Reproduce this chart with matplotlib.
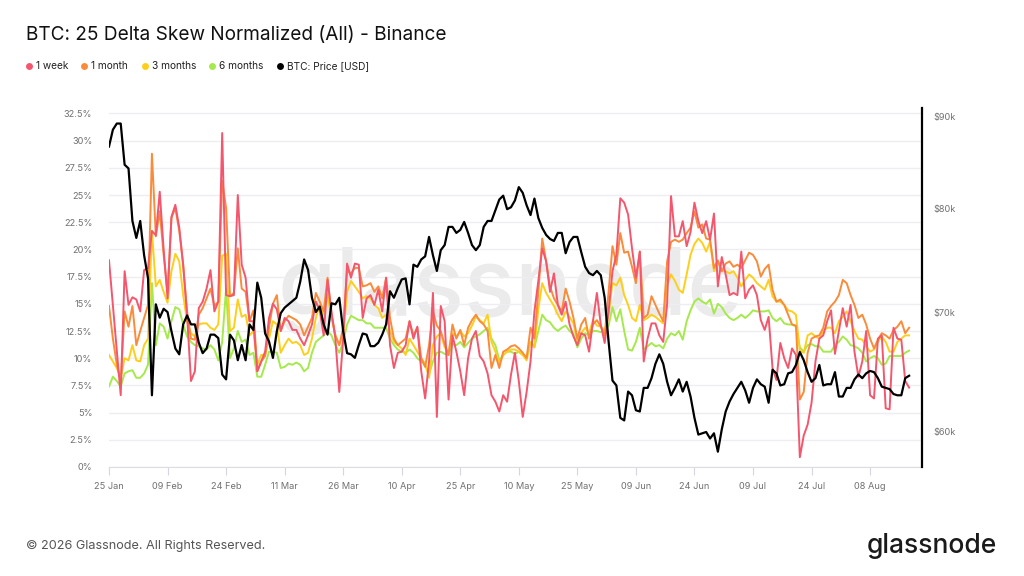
import numpy as np
import pandas as pd
import matplotlib
matplotlib.use("Agg")
import matplotlib.pyplot as plt
import matplotlib.dates as mdates
from matplotlib.lines import Line2D
from matplotlib.ticker import FixedLocator, NullLocator

plt.rcParams['font.family'] = ['Inter', 'DejaVu Sans']

# ---- data (daily) ----
start = "2026-01-25"

skew_1w = [19.0, 14.8, 10.7, 6.6, 18.0, 14.9, 15.6, 15.4, 14.3, 18.1, 18.3, 21.7, 21.3, 25.3, 20.0, 15.5,
           23.0, 24.1, 22.0, 18.6, 14.0, 7.9, 8.8, 14.6, 15.2, 16.4, 18.1, 14.3, 15.2, 30.7, 15.8, 15.7,
           15.8, 25.0, 18.6, 17.4, 13.4, 13.4, 8.8, 9.7, 10.6, 13.7,
           15.0, 14.5, 12.5, 13.7, 13.4, 12.6, 12.6, 11.8, 11.2, 12.1, 13.1, 15.2, 14.4, 12.1, 17.2, 14.3,
           11.8, 6.9, 11.8, 18.7, 17.4, 18.7, 18.6, 13.7, 15.5, 15.8, 14.9, 16.3, 14.3, 17.4, 11.2, 9.1,
           10.5, 10.6, 11.2, 13.4, 11.8, 12.9, 8.8, 6.3, 9.7, 16.0,
           4.6, 14.8, 13.4, 6.2, 12.1, 10.6, 8.8, 6.6, 10.0, 11.8, 12.5, 10.2, 9.7, 8.6, 6.6, 6.0, 5.1,
           6.6, 6.0, 8.5, 10.5, 7.9, 4.6, 6.9, 9.7, 14.3, 17.1, 20.1, 18.9, 16.1, 17.8, 14.9, 14.0, 15.2,
           13.1, 12.0, 11.2, 12.3, 12.1, 10.6, 13.4,
           16.0, 13.1, 11.4, 14.3, 18.0, 19.5, 24.7, 24.3, 23.2, 20.1, 17.4, 19.8, 9.7, 11.8, 13.2, 13.2,
           12.1, 11.5, 15.0, 24.9, 21.2, 21.2, 22.6, 20.3, 21.6, 24.3, 22.6, 21.5, 22.6, 20.9, 23.3, 16.6,
           19.3, 17.7, 15.8, 16.0, 15.8, 19.8, 15.5, 16.3, 16.7, 15.8,
           13.5, 12.6, 13.8, 9.1, 8.0, 11.4, 10.0, 9.1, 10.9, 10.3, 0.9, 2.9, 3.9, 5.9, 9.7, 11.8, 12.1,
           13.4, 14.4, 10.4, 12.5, 14.6, 12.9, 14.9, 10.6, 8.3, 9.7, 12.5, 6.6, 6.3, 11.8, 12.1, 5.4, 5.3,
           12.8, 11.8, 11.7, 7.9, 7.3]

skew_1m = [14.8, 11.8, 9.4, 7.9, 14.3, 12.9, 14.8, 11.2, 12.5, 13.7, 14.9, 28.8, 21.2, 23.5, 19.5, 16.1,
           22.9, 23.8, 21.7, 18.6, 14.3, 11.8, 11.7, 14.0, 14.6, 15.5, 16.4, 14.8, 15.2, 26.3, 23.8, 15.7,
           16.0, 20.1, 16.4, 16.1, 13.4, 14.4, 8.8, 9.7, 10.2, 12.8,
           15.0, 15.8, 12.5, 13.4, 13.9, 13.7, 13.5, 13.1, 12.1, 12.9, 13.7, 16.0, 15.2, 14.3, 17.4, 14.0,
           12.1, 11.2, 12.8, 18.0, 17.8, 18.3, 18.3, 16.6, 16.7, 16.9, 16.1, 16.6, 15.5, 17.4, 13.7, 11.8,
           11.2, 11.5, 11.8, 13.4, 12.1, 12.8, 10.0, 9.2, 11.2, 14.3,
           13.0, 12.5, 11.3, 10.3, 13.1, 11.8, 12.6, 11.2, 12.8, 13.5, 14.0, 13.4, 13.1, 12.5, 9.1, 10.3,
           9.1, 10.6, 10.8, 11.1, 11.2, 10.9, 10.5, 10.0, 12.8, 11.8, 16.1, 21.0, 18.9, 16.6, 15.5, 14.9,
           14.3, 16.4, 15.2, 13.7, 11.8, 13.1, 13.7, 11.8, 13.1,
           13.5, 12.9, 12.1, 16.1, 20.3, 18.6, 21.5, 19.7, 19.8, 18.4, 16.9, 19.8, 13.7, 14.0, 15.7, 14.9,
           14.1, 13.4, 18.9, 20.7, 20.9, 20.7, 20.9, 21.5, 22.0, 23.5, 22.0, 22.3, 21.0, 20.9, 18.3, 19.0,
           18.0, 18.7, 18.9, 18.4, 18.6, 18.3, 19.0, 19.7, 19.5, 18.9,
           17.5, 18.2, 18.6, 16.3, 15.2, 15.4, 14.9, 14.0, 13.1, 13.0, 6.2, 6.9, 10.5, 11.8, 12.0, 12.1,
           12.8, 14.3, 14.8, 15.2, 15.8, 17.2, 16.9, 15.8, 14.9, 13.7, 14.0, 13.1, 11.8, 10.9, 11.7, 12.3,
           12.1, 11.8, 12.6, 12.9, 13.4, 12.3, 12.8]

skew_3m = [10.3, 9.7, 9.1, 8.2, 10.0, 9.8, 11.2, 9.8, 9.7, 11.2, 11.8, 21.7, 16.6, 17.2, 16.1, 15.1,
           18.0, 19.6, 18.9, 15.8, 13.4, 12.3, 12.0, 13.1, 13.2, 13.2, 12.8, 12.6, 13.1, 19.4, 19.6, 12.5,
           12.8, 15.4, 13.8, 14.0, 12.1, 12.5, 9.4, 10.3, 10.3, 11.8,
           13.4, 13.1, 10.5, 11.2, 11.8, 11.4, 11.5, 11.2, 10.3, 10.5, 11.8, 13.7, 14.9, 14.0, 15.8, 13.7,
           12.1, 11.2, 12.1, 16.1, 17.1, 16.6, 16.1, 15.5, 15.7, 15.5, 14.9, 14.6, 13.7, 14.0, 12.5, 11.5,
           11.2, 10.9, 10.3, 11.8, 11.2, 10.6, 10.0, 9.5, 8.2, 11.2,
           12.0, 12.3, 11.0, 10.5, 12.3, 12.0, 12.5, 12.0, 12.3, 13.0, 13.8, 13.5, 13.2, 14.0, 11.5, 10.6,
           9.5, 10.3, 10.6, 10.8, 10.8, 10.6, 10.3, 9.8, 11.5, 11.0, 14.5, 16.9, 16.0, 15.4, 14.8, 14.0,
           13.4, 14.3, 13.8, 13.2, 11.5, 12.3, 12.8, 12.3, 13.5,
           13.0, 12.9, 12.5, 14.0, 16.9, 16.7, 17.4, 15.8, 14.9, 13.7, 13.4, 14.9, 13.5, 13.7, 14.0, 13.8,
           13.5, 13.2, 16.7, 17.7, 17.1, 16.3, 16.0, 17.7, 19.5, 20.5, 21.0, 20.6, 19.8, 20.7, 18.0, 18.9,
           18.0, 18.0, 17.8, 18.0, 17.4, 16.6, 17.2, 17.7, 17.4, 16.9,
           16.6, 16.3, 17.2, 15.7, 15.2, 15.2, 14.9, 14.4, 14.3, 14.0, 10.7, 10.5, 12.1, 12.3, 12.0, 11.8,
           12.5, 12.8, 12.8, 12.3, 13.4, 13.8, 14.3, 13.4, 12.5, 11.8, 11.7, 11.1, 10.6, 10.8, 11.5, 12.0,
           11.5, 10.6, 10.6, 11.5, 11.8, 12.1, 12.1]

skew_6m = [7.4, 8.3, 7.9, 7.4, 8.6, 8.8, 8.9, 8.2, 8.2, 8.6, 9.4, 16.9, 11.2, 13.2, 12.9, 11.8,
           13.4, 14.7, 14.5, 13.1, 12.0, 11.5, 11.2, 11.1, 10.9, 10.8, 11.2, 10.8, 9.8, 11.5, 16.4, 10.0,
           10.9, 12.5, 11.5, 11.7, 10.3, 10.5, 8.3, 8.3, 9.4, 10.6,
           10.6, 10.5, 9.1, 9.2, 9.5, 9.4, 9.6, 9.4, 8.8, 9.1, 10.5, 11.5, 11.8, 12.1, 12.5, 12.1,
           11.2, 10.5, 11.5, 13.1, 13.9, 13.7, 13.5, 13.5, 13.2, 13.2, 12.8, 12.8, 12.8, 12.8, 11.8, 11.2,
           10.8, 10.6, 10.5, 10.8, 10.5, 10.0, 9.7, 9.4, 8.5, 9.7,
           10.5, 10.6, 10.4, 10.3, 11.3, 11.2, 11.5, 11.0, 11.4, 11.8, 12.0, 12.2, 12.5, 12.8, 11.8, 11.2,
           9.8, 10.3, 10.6, 10.6, 10.4, 10.6, 10.3, 10.1, 11.5, 11.0, 12.5, 14.0, 13.5, 13.3, 12.8, 12.5,
           12.8, 13.0, 12.5, 12.2, 11.0, 11.8, 12.3, 12.1, 12.5,
           12.5, 12.4, 12.5, 13.0, 14.7, 13.4, 14.5, 12.5, 10.8, 10.7, 11.5, 12.8, 10.8, 11.1, 11.4, 11.1,
           11.2, 10.9, 11.8, 12.3, 12.1, 12.5, 11.7, 13.4, 14.4, 15.2, 15.5, 15.2, 15.0, 15.4, 14.1, 15.0,
           14.7, 14.1, 13.7, 13.5, 13.7, 14.0, 13.7, 14.0, 14.4, 14.3,
           14.3, 14.3, 14.4, 13.7, 13.4, 13.7, 13.2, 13.1, 13.1, 12.9, 11.0, 10.6, 11.2, 11.3, 11.1, 11.1,
           10.6, 10.6, 10.6, 11.2, 11.5, 12.0, 11.7, 11.2, 11.1, 10.9, 10.5, 9.7, 10.0, 10.2, 10.0, 9.4,
           9.5, 10.2, 10.2, 10.2, 10.2, 10.5, 10.7]

# BTC price in thousands of USD
btc_price_k = [86.6, 88.5, 89.2, 89.2, 84.6, 84.2, 78.7, 77.0, 78.7, 75.3, 73.1, 62.9, 70.7, 69.5, 70.3, 70.0,
               68.3, 66.8, 66.3, 68.9, 69.7, 68.9, 68.9, 67.3, 66.4, 66.8, 68.0, 68.0, 67.7, 64.6, 64.2, 68.0,
               67.5, 65.8, 67.1, 65.8, 68.9, 68.4, 72.7, 71.3, 68.1, 67.4,
               66.0, 68.3, 69.9, 70.4, 70.7, 71.0, 71.3, 72.8, 74.9, 73.9, 71.3, 70.0, 70.5, 68.9, 68.0, 70.8,
               70.7, 71.3, 68.3, 66.4, 66.3, 66.0, 67.1, 68.1, 68.0, 67.0, 67.0, 67.3, 68.0, 68.9, 71.9, 71.3,
               72.2, 73.0, 73.1, 70.7, 74.4, 74.2, 74.9, 75.2, 77.1, 75.3,
               73.8, 75.8, 76.3, 78.1, 78.1, 77.5, 77.8, 78.6, 77.5, 76.3, 75.8, 76.3, 78.1, 78.7, 78.7, 79.8,
               80.9, 81.3, 79.9, 80.1, 80.8, 82.2, 81.6, 80.3, 79.3, 81.0, 79.0, 78.0, 77.3, 76.9, 76.7, 77.5,
               77.5, 75.5, 76.6, 77.1, 77.1, 75.6, 74.2, 73.6, 73.4,
               73.8, 73.4, 71.3, 67.4, 64.1, 63.7, 61.1, 60.9, 63.2, 62.9, 61.7, 61.6, 63.5, 63.5, 64.3, 65.5,
               66.3, 65.5, 64.0, 62.9, 63.5, 64.2, 63.2, 64.0, 62.8, 61.1, 59.8, 59.9, 60.0, 59.5, 59.9, 58.5,
               60.2, 61.6, 62.4, 63.0, 63.5, 64.0, 63.3, 62.3, 63.5, 64.2,
               63.8, 63.6, 62.3, 65.0, 64.7, 63.7, 63.8, 64.7, 64.8, 65.4, 66.5, 65.8, 64.8, 64.0, 64.3, 65.4,
               63.7, 63.8, 63.8, 64.8, 62.8, 62.8, 63.5, 63.5, 64.2, 64.6, 64.3, 64.7, 64.9, 64.8, 64.3, 63.6,
               63.5, 63.4, 63.0, 62.9, 62.9, 64.3, 64.5]

series_names = ["1 week", "1 month", "3 months", "6 months", "BTC: Price [USD]"]
series_colors = ["#f4566d", "#f98b3a", "#fdcf1c", "#a5e94c", "#000000"]
left_ticks = [0, 2.5, 5, 7.5, 10, 12.5, 15, 17.5, 20, 22.5, 25, 27.5, 30, 32.5]
right_ticks = [60, 70, 80, 90]

dates = pd.date_range(start, periods=len(btc_price_k), freq="D")
tick_dates = pd.date_range(start, periods=14, freq="15D")

# ---- figure ----
W, H = 1024, 576
fig = plt.figure(figsize=(W / 100, H / 100), dpi=100)
ax = fig.add_axes([109 / W, 1 - 467 / H, (922 - 109) / W, (467 - 108) / H])

# watermark
ax.text(510 / W, 1 - 315 / H, "glassnode", transform=fig.transFigure, fontsize=68,
        color="#000000", alpha=0.08, ha="center", va="baseline", fontweight="medium", zorder=0)

skews = [skew_6m, skew_3m, skew_1m, skew_1w]
cols = [series_colors[3], series_colors[2], series_colors[1], series_colors[0]]
for vals, c in zip(skews, cols):
    ax.plot(dates, vals, color=c, lw=1.4, zorder=2)

ax.set_ylim(0, 33.0)
ax.set_xlim(dates[0], dates[0] + pd.Timedelta(days=208.3))
ax.yaxis.set_major_locator(FixedLocator(left_ticks))
ax.set_yticklabels([f"{t:g}%" for t in left_ticks])
ax.yaxis.grid(True, color="#eeeef2", lw=1)
ax.set_axisbelow(True)
ax.tick_params(axis="y", length=0, pad=12, labelsize=6.6, labelcolor="#707070")
ax.set_xticks(tick_dates)
ax.xaxis.set_major_formatter(mdates.DateFormatter("%d %b"))
ax.tick_params(axis="x", length=6, width=0.8, color="#d6d6de", pad=5, labelsize=6.6, labelcolor="#707070")
for s in ["top", "left", "right"]:
    ax.spines[s].set_visible(False)
ax.spines["bottom"].set_color("#dcdce4")

# BTC price on log right axis
ax2 = ax.twinx()
ax2.plot(dates, np.array(btc_price_k) * 1000, color=series_colors[4], lw=1.6, zorder=3)
ax2.set_yscale("log")
ax2.set_ylim(57360, 91000)
ax2.yaxis.set_major_locator(FixedLocator([v * 1000 for v in right_ticks]))
ax2.yaxis.set_minor_locator(NullLocator())
ax2.set_yticklabels([f"${v}k" for v in right_ticks])
ax2.tick_params(axis="y", length=0, pad=8, labelsize=6.6, labelcolor="#707070")
for s in ["top", "left", "bottom"]:
    ax2.spines[s].set_visible(False)
ax2.spines["right"].set_color("#000000")
ax2.spines["right"].set_linewidth(1.6)

# title
fig.text(26 / W, 1 - 35 / H, "BTC: 25 Delta Skew Normalized (All) - Binance", fontsize=13.7,
         color="#111111", ha="left", va="center")

# legend
dot_x = [29, 84, 145, 212, 280]
for name, c, dx in zip(series_names, series_colors, dot_x):
    fig.add_artist(Line2D([dx / W], [1 - 66 / H], marker="o", markersize=5, color=c,
                          markeredgewidth=0, transform=fig.transFigure))
    fig.text((dx + 7) / W, 1 - 66 / H, name, fontsize=7.3, color="#222222", ha="left", va="center")

# footer
fig.text(26 / W, 1 - 546 / H, "\u00a9 2026 Glassnode. All Rights Reserved.", fontsize=9.1,
         color="#555555", ha="left", va="center")
fig.text(997 / W, 1 - 546 / H, "glassnode", fontsize=19, color="#1a1a1a", ha="right",
         va="center", fontweight="medium")

fig.savefig("out.png", dpi=100)
